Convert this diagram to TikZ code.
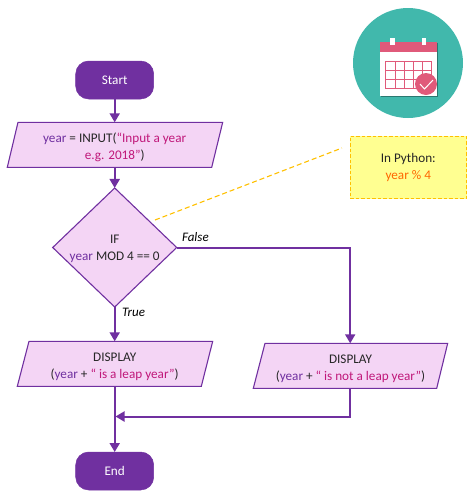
\documentclass[tikz,border=0pt]{standalone}
\usepackage{fontspec}
\setmainfont{Carlito}
\usetikzlibrary{shapes.geometric,arrows.meta}
\definecolor{pur}{HTML}{7030A0}
\definecolor{lil}{HTML}{F4D5F5}
\definecolor{mag}{HTML}{C0187A}
\definecolor{ink}{HTML}{262626}
\definecolor{teal2}{HTML}{41B8AC}
\definecolor{pink2}{HTML}{E05A7A}
\definecolor{org}{HTML}{FF6600}
\definecolor{gold}{HTML}{FFC000}
\definecolor{notefill}{HTML}{FFFF91}
\newcommand{\yr}{\textcolor{pur}{year}}
\newcommand{\str}[1]{\textcolor{mag}{#1}}
\newcommand{\lowerA}{\rule{0pt}{14pt}}
\newcommand{\lowerB}{\rule{0pt}{12pt}}
\tikzset{
  x=1pt,y=-1pt,
  every node/.style={font=\fontsize{13.2}{17}\selectfont,text=ink,align=center,inner sep=0pt,outer sep=0pt},
  term/.style={draw=pur,fill=pur,rounded corners=13pt,minimum width=78pt,minimum height=38pt,text=white,line width=.5pt},
  iopoly/.style={draw=pur,fill=lil,line width=1.1pt,line join=miter},
  iobox/.style={minimum height=45pt},
  decide/.style={draw=pur,fill=lil,line width=1.1pt,diamond,aspect=1.04,minimum width=124pt,minimum height=119pt},
  flow/.style={draw=pur,line width=2pt,-{Triangle[width=10pt,length=9pt]}},
  edgelabel/.style={font=\fontsize{13}{15}\selectfont\itshape,text=black},
}
\begin{document}
\begin{tikzpicture}
\useasboundingbox (0,0) rectangle (474,499);
% calendar icon
\fill[teal2] (408,63) circle (55);
\fill[black!35!teal2] (381,43) rectangle (438,97);
\fill[white] (379.7,52) rectangle (437,96);
\fill[pink2] (379.7,41.7) rectangle (437,52.3);
\fill[white] (390,38) rectangle (394.7,45.3);
\fill[white] (421.7,38) rectangle (426.3,45.3);
\draw[pink2,line width=1pt] (385.8,61.5) rectangle (431,88.5);
\foreach \cx in {395,404,413.5,422.5} \draw[pink2,line width=1pt] (\cx,61.5) -- (\cx,88.5);
\foreach \cy in {70.5,79.5} \draw[pink2,line width=1pt] (385.8,\cy) -- (431,\cy);
\fill[pink2] (426,84) circle (11);
\draw[white,line width=1pt] (420,84) -- (424.5,89) -- (433,80);
% parallelogram outlines
\path[iopoly] (18,122.3) -- (222.7,122.3) -- (211.7,167.3) -- (7.3,167.3) -- cycle;
\path[iopoly] (29,341.3) -- (212.7,341.3) -- (201.3,386.3) -- (17.3,386.3) -- cycle;
\path[iopoly] (265,343.3) -- (447.7,343.3) -- (436.7,388.3) -- (253.3,388.3) -- cycle;
% nodes
\node[term] (start) at (114.7,80) {Start};
\node[iobox,minimum width=204pt] (input) at (114.7,144.8) {\lowerA\yr{} = INPUT(\str{“Input a year}\\\str{e.g. 2018”})};
\node[decide] (cond) at (114.7,247.5) {\lowerB IF\\\yr{} MOD 4 == 0};
\node[iobox,minimum width=184pt] (yes) at (114.7,363.8) {\lowerA DISPLAY\\(\yr{} + \str{“ is a leap year”})};
\node[iobox,minimum width=183pt] (no) at (350.5,365.8) {\lowerA DISPLAY\\(\yr{} + \str{“ is not a leap year”})};
\node[term] (end) at (114.7,471) {End};
\node[draw=gold,fill=notefill,dash pattern=on 3.5pt off 2pt,line width=1pt,minimum width=116.5pt,minimum height=62.5pt] (note) at (408.3,167.5) {In Python:\\\textcolor{org}{year \% 4}};
\coordinate (noteend) at (342,148);
\coordinate (condside) at (155,220);
\coordinate (elbow) at (350.2,247.5);
\coordinate (joinright) at (350.2,416.5);
\coordinate (join) at (115.5,416.5);
% connectors
\draw[flow] (start) -- (input);
\draw[flow] (input) -- (cond);
\draw[flow] (cond) -- (yes);
\draw[flow] (yes) -- (end);
\draw[flow] (cond.east) -- (elbow) -- (no.north -| elbow);
\draw[flow] (no.south -| joinright) -- (joinright) -- (join);
\draw[gold,dash pattern=on 5pt off 3pt,line width=1.1pt] (condside) -- (noteend);
\node[edgelabel,anchor=west] (falselbl) at (182,237) {False};
\node[edgelabel,anchor=west] (truelbl) at (122,312.5) {True};
\end{tikzpicture}
\end{document}
